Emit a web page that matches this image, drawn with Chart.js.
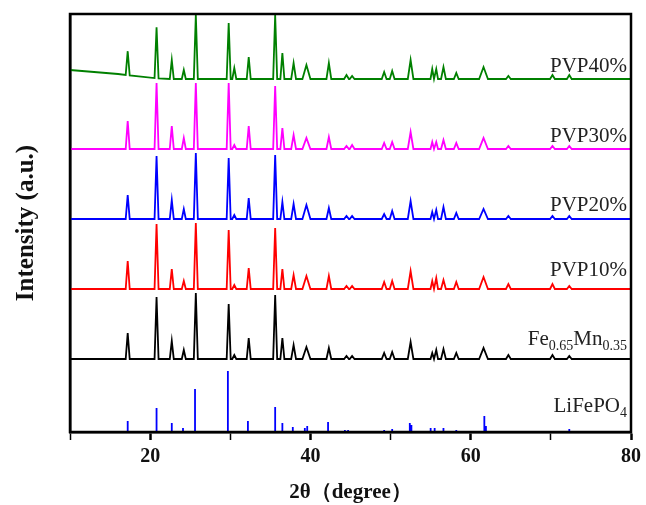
<!DOCTYPE html>
<html>
<head>
<meta charset="utf-8">
<script src="https://cdn.jsdelivr.net/npm/chart.js@4.4.0/dist/chart.umd.min.js"></script>
<style>
  html, body { margin: 0; padding: 0; background: #fff; }
  #wrap { width: 646px; height: 505px; }
</style>
</head>
<body>
<div id="wrap"><canvas id="xrd" width="646" height="505"></canvas></div>
<script>
"use strict";
// peak positions (2theta) shared by the measured patterns
const peaks = [17.2, 20.8, 22.7, 24.2, 25.7, 29.8, 30.5, 32.3, 35.6, 36.5, 37.9, 39.5, 42.3, 44.5, 45.2, 49.2, 50.2, 52.5, 55.2, 55.7, 56.6, 58.2, 61.6, 64.7, 70.2, 72.3];
const halfWidths = [0.25, 0.25, 0.25, 0.25, 0.25, 0.25, 0.25, 0.25, 0.25, 0.25, 0.3, 0.5, 0.3, 0.3, 0.3, 0.3, 0.3, 0.35, 0.22, 0.22, 0.3, 0.3, 0.55, 0.3, 0.3, 0.3];

// peak heights above each baseline (a.u.)
const pvp40 = [24, 51, 19, 9, 64, 56, 11, 22, 64, 26, 16, 14, 16, 4, 3, 7, 8, 19, 10, 10, 12, 6, 12, 3, 4, 4];
const pvp30 = [28, 66, 23, 11, 66, 66, 4, 23, 63, 21, 14, 11, 12, 3, 4, 6, 7, 17, 7, 7, 9, 6, 11, 3, 3, 3];
const pvp20 = [24, 63, 19, 10, 66, 61, 4, 21, 64, 17, 15, 14, 11, 3, 3, 5, 8, 18, 7, 9, 12, 6, 10, 3, 3, 3];
const pvp10 = [28, 65, 20, 8, 66, 59, 4, 21, 61, 20, 14, 13, 13, 3, 3, 7, 8, 18, 8, 11, 9, 7, 12, 5, 5, 3];
const feMn = [26, 62, 18, 9, 66, 55, 4, 21, 64, 21, 14, 12, 11, 3, 3, 6, 7, 17, 6, 9, 10, 6, 11, 4, 4, 3];

// sloping background of the PVP40% pattern at low angle
const pvp40Background = [[10, 9], [13, 7], [16, 5], [19, 2], [22, 0], [80, 0]];

// LiFePO4 reference lines
const refPos = [17.2, 20.8, 22.7, 24.1, 25.6, 29.7, 32.2, 34.5, 35.6, 36.5, 37.8, 39.3, 39.6, 42.2, 44.3, 44.7, 49.2, 50.2, 52.4, 52.6, 55.0, 55.5, 56.6, 58.2, 61.7, 61.9, 64.0, 66.0, 72.3, 74.4];
const refHeight = [11, 24, 9, 4, 43, 61, 11, 1, 25, 9, 5, 4, 6, 10, 2, 2, 2, 3, 9, 7, 4, 4, 4, 2, 16, 6, 1, 1, 3, 1];

const seriesNames = ["PVP40%", "PVP30%", "PVP20%", "PVP10%", "Fe_{0.65}Mn_{0.35}", "LiFePO_{4}"];
const xTicks = [20, 40, 60, 80];

const offsets = [353, 283, 213, 143, 73, 0];
const colors = ["#008000", "#ff00ff", "#0000ff", "#ff0000", "#000000", "#0000ff"];
const labelLift = [7, 7, 8, 13, 14, 20];

function bgAt(bg, x) {
  for (let i = 1; i < bg.length; i++) {
    if (x <= bg[i][0]) {
      const t = (x - bg[i - 1][0]) / (bg[i][0] - bg[i - 1][0]);
      return bg[i - 1][1] + t * (bg[i][1] - bg[i - 1][1]);
    }
  }
  return 0;
}

function pattern(heights, offset, bg) {
  const pts = [{ x: 10, y: 0 }];
  if (bg) bg.forEach((b) => { if (b[0] > 10 && b[0] < peaks[0]) pts.push({ x: b[0], y: 0 }); });
  peaks.forEach((p, i) => {
    const w = halfWidths[i];
    pts.push({ x: p - w, y: 0 }, { x: p, y: heights[i] }, { x: p + w, y: 0 });
  });
  pts.push({ x: 80, y: 0 });
  pts.sort((a, b) => a.x - b.x);
  return pts.map((pt) => ({ x: pt.x, y: pt.y + offset + (bg ? bgAt(bg, pt.x) : 0) }));
}

function sticks(pos, h) {
  const pts = [];
  pos.forEach((p, i) => {
    pts.push({ x: p, y: 0 }, { x: p, y: h[i] }, { x: p, y: null });
  });
  return pts;
}

const patterns = [pvp40, pvp30, pvp20, pvp10, feMn];
const datasets = patterns.map((h, i) => ({
  label: seriesNames[i],
  data: pattern(h, offsets[i], i === 0 ? pvp40Background : null),
  borderColor: colors[i],
  borderWidth: 1.8,
  pointRadius: 0,
  tension: 0,
}));
datasets.push({
  label: seriesNames[5],
  data: sticks(refPos, refHeight),
  borderColor: colors[5],
  borderWidth: 1.8,
  pointRadius: 0,
  spanGaps: false,
});

const serif = "'Liberation Serif', 'Times New Roman', serif";

const frame = {
  id: "frame",
  afterDraw(chart) {
    const { ctx, chartArea: a } = chart;
    ctx.save();
    ctx.strokeStyle = "#000";
    ctx.lineWidth = 2.5;
    ctx.strokeRect(a.left, a.top, a.right - a.left, a.bottom - a.top);
    ctx.restore();
  },
};

const seriesLabels = {
  id: "seriesLabels",
  afterDatasetsDraw(chart) {
    const { ctx, chartArea: a } = chart;
    const ys = chart.scales.y;
    ctx.save();
    ctx.fillStyle = "#222";
    ctx.textBaseline = "alphabetic";
    seriesNames.forEach((name, i) => {
      const parts = name.split(/(_\{[^}]*\})/).filter((s) => s.length);
      const segs = parts.map((s) => s.startsWith("_{")
        ? { t: s.slice(2, -1), sub: true }
        : { t: s, sub: false });
      let width = 0;
      segs.forEach((s) => {
        ctx.font = (s.sub ? 14 : 21) + "px " + serif;
        s.w = ctx.measureText(s.t).width;
        width += s.w;
      });
      let x = a.right - 4 - width;
      const y = ys.getPixelForValue(offsets[i] + labelLift[i]);
      segs.forEach((s) => {
        ctx.font = (s.sub ? 14 : 21) + "px " + serif;
        ctx.fillText(s.t, x, s.sub ? y + 5 : y);
        x += s.w;
      });
    });
    ctx.restore();
  },
};

new Chart(document.getElementById("xrd"), {
  type: "line",
  data: { datasets: datasets },
  options: {
    responsive: false,
    animation: false,
    layout: { padding: { top: 14, right: 14, bottom: 0, left: 0 } },
    plugins: { legend: { display: false }, tooltip: { enabled: false } },
    scales: {
      x: {
        type: "linear",
        min: 10,
        max: 80,
        z: 1,
        afterFit: (s) => { s.height = 73; },
        ticks: {
          stepSize: 10,
          autoSkip: false,
          maxRotation: 0,
          padding: 5,
          color: "#111",
          font: { family: serif, size: 20, weight: "bold" },
          callback: (v) => (xTicks.includes(v) ? v : ""),
        },
        grid: {
          display: true,
          drawOnChartArea: false,
          drawTicks: true,
          tickLength: 8,
          tickColor: "#000",
          tickWidth: (c) => (c.tick && xTicks.includes(c.tick.value) ? 2.5 : 1.5),
        },
        border: { display: true, color: "#000", width: 2.5 },
        title: {
          display: true,
          text: "2θ（degree）",
          color: "#111",
          font: { family: serif, size: 21, weight: "bold" },
          padding: { top: 0, bottom: 0 },
        },
      },
      y: {
        min: 0,
        max: 418,
        z: 1,
        afterFit: (s) => { s.width = 70; },
        ticks: { display: false },
        grid: { display: false },
        border: { display: true, color: "#000", width: 2.5 },
        title: {
          display: true,
          text: "Intensity (a.u.)",
          color: "#111",
          font: { family: serif, size: 25, weight: "bold" },
          padding: { top: 12, bottom: 0 },
        },
      },
    },
  },
  plugins: [frame, seriesLabels],
});
</script>
</body>
</html>
